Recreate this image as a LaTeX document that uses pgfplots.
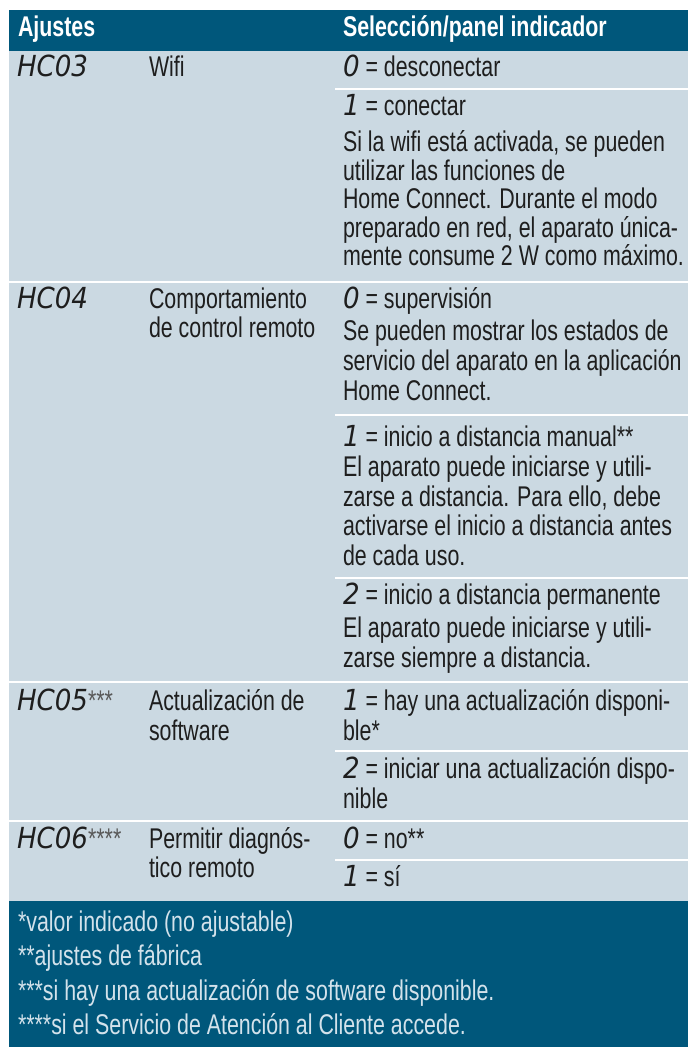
\documentclass[border=0pt]{standalone}
\usepackage{fontspec}
\setmainfont{Liberation Sans}[FakeStretch=0.75]
\newfontfamily\segfont{DejaVu Sans}[FakeStretch=0.9]
\usepackage{pgfplots}
\pgfplotsset{compat=1.18}
\definecolor{hdr}{HTML}{00577B}
\definecolor{bodybg}{HTML}{CBD9E2}
\definecolor{txt}{HTML}{1E1E1E}
\definecolor{foot}{HTML}{D3E2EB}
\newcommand\sg[1]{{\segfont\itshape\fontsize{29bp}{29bp}\selectfont #1}}
\tikzset{
  t/.style={anchor=base west,inner sep=0pt,outer sep=0pt,text=txt,overlay,font=\fontsize{28.5bp}{29bp}\selectfont},
  h/.style={t,text=white,font=\fontsize{28.5bp}{29bp}\selectfont\bfseries},
  f/.style={t,text=foot},
}
\begin{document}
\begin{tikzpicture}
\begin{axis}[width=688bp,height=1047bp,scale only axis,
  xmin=0,xmax=688,ymin=0,ymax=1047,y dir=reverse,hide axis,clip=false]
% backgrounds
\addplot[draw=none,fill=white] coordinates {(0,0)(688,0)(688,1047)(0,1047)};
\addplot[draw=none,fill=hdr] coordinates {(9,10)(688,10)(688,51)(9,51)};
\addplot[draw=none,fill=bodybg] coordinates {(9,51)(688,51)(688,901)(9,901)};
\addplot[draw=none,fill=hdr] coordinates {(9,901)(688,901)(688,1047)(9,1047)};
% full separators
\addplot[white,line width=2.2bp] coordinates {(9,282)(688,282)};
\addplot[white,line width=2.2bp] coordinates {(9,682)(688,682)};
\addplot[white,line width=2.2bp] coordinates {(9,821)(688,821)};
% partial separators
\addplot[white,line width=2.2bp] coordinates {(335,89)(688,89)};
\addplot[white,line width=2.2bp] coordinates {(335,415)(688,415)};
\addplot[white,line width=2.2bp] coordinates {(335,578)(688,578)};
\addplot[white,line width=2.2bp] coordinates {(335,751)(688,751)};
\addplot[white,line width=2.2bp] coordinates {(335,860)(688,860)};
% header
\node[h] at (axis cs:18,36) {Ajustes};
\node[h] at (axis cs:343,36) {Selección/panel indicador};
% HC03
\node[t] at (axis cs:17,76) {\sg{HC03}};
\node[t] at (axis cs:149,76) {Wifi};
\node[t] at (axis cs:343,76) {\sg{0} = desconectar};
\node[t] at (axis cs:343,115) {\sg{1} = conectar};
\node[t] at (axis cs:343,151) {Si la wifi está activada, se pueden};
\node[t] at (axis cs:343,180) {utilizar las funciones de};
\node[t] at (axis cs:343,208) {Home Connect. Durante el modo};
\node[t] at (axis cs:343,237) {preparado en red, el aparato única-};
\node[t] at (axis cs:343,265) {mente consume 2 W como máximo.};
% HC04
\node[t] at (axis cs:17,308) {\sg{HC04}};
\node[t] at (axis cs:149,308) {Comportamiento};
\node[t] at (axis cs:149,337) {de control remoto};
\node[t] at (axis cs:343,308) {\sg{0} = supervisión};
\node[t] at (axis cs:343,340) {Se pueden mostrar los estados de};
\node[t] at (axis cs:343,370) {servicio del aparato en la aplicación};
\node[t] at (axis cs:343,400) {Home Connect.};
\node[t] at (axis cs:343,446) {\sg{1} = inicio a distancia manual**};
\node[t] at (axis cs:343,476) {El aparato puede iniciarse y utili-};
\node[t] at (axis cs:343,506) {zarse a distancia. Para ello, debe};
\node[t] at (axis cs:343,535) {activarse el inicio a distancia antes};
\node[t] at (axis cs:343,565) {de cada uso.};
\node[t] at (axis cs:343,604) {\sg{2} = inicio a distancia permanente};
\node[t] at (axis cs:343,637) {El aparato puede iniciarse y utili-};
\node[t] at (axis cs:343,667) {zarse siempre a distancia.};
% HC05
\node[t] at (axis cs:17,710) {\sg{HC05}\textcolor{black!65}{***}};
\node[t] at (axis cs:149,710) {Actualización de};
\node[t] at (axis cs:149,740) {software};
\node[t] at (axis cs:343,710) {\sg{1} = hay una actualización disponi-};
\node[t] at (axis cs:343,740) {ble*};
\node[t] at (axis cs:343,778) {\sg{2} = iniciar una actualización dispo-};
\node[t] at (axis cs:343,808) {nible};
% HC06
\node[t] at (axis cs:17,848) {\sg{HC06}\textcolor{black!65}{****}};
\node[t] at (axis cs:149,848) {Permitir diagnós-};
\node[t] at (axis cs:149,877) {tico remoto};
\node[t] at (axis cs:343,848) {\sg{0} = no**};
\node[t] at (axis cs:343,886) {\sg{1} = sí};
% footer
\node[f] at (axis cs:18,931) {*valor indicado (no ajustable)};
\node[f] at (axis cs:18,965) {**ajustes de fábrica};
\node[f] at (axis cs:18,1000) {***si hay una actualización de software disponible.};
\node[f] at (axis cs:18,1034) {****si el Servicio de Atención al Cliente accede.};
\end{axis}
\end{tikzpicture}
\end{document}
